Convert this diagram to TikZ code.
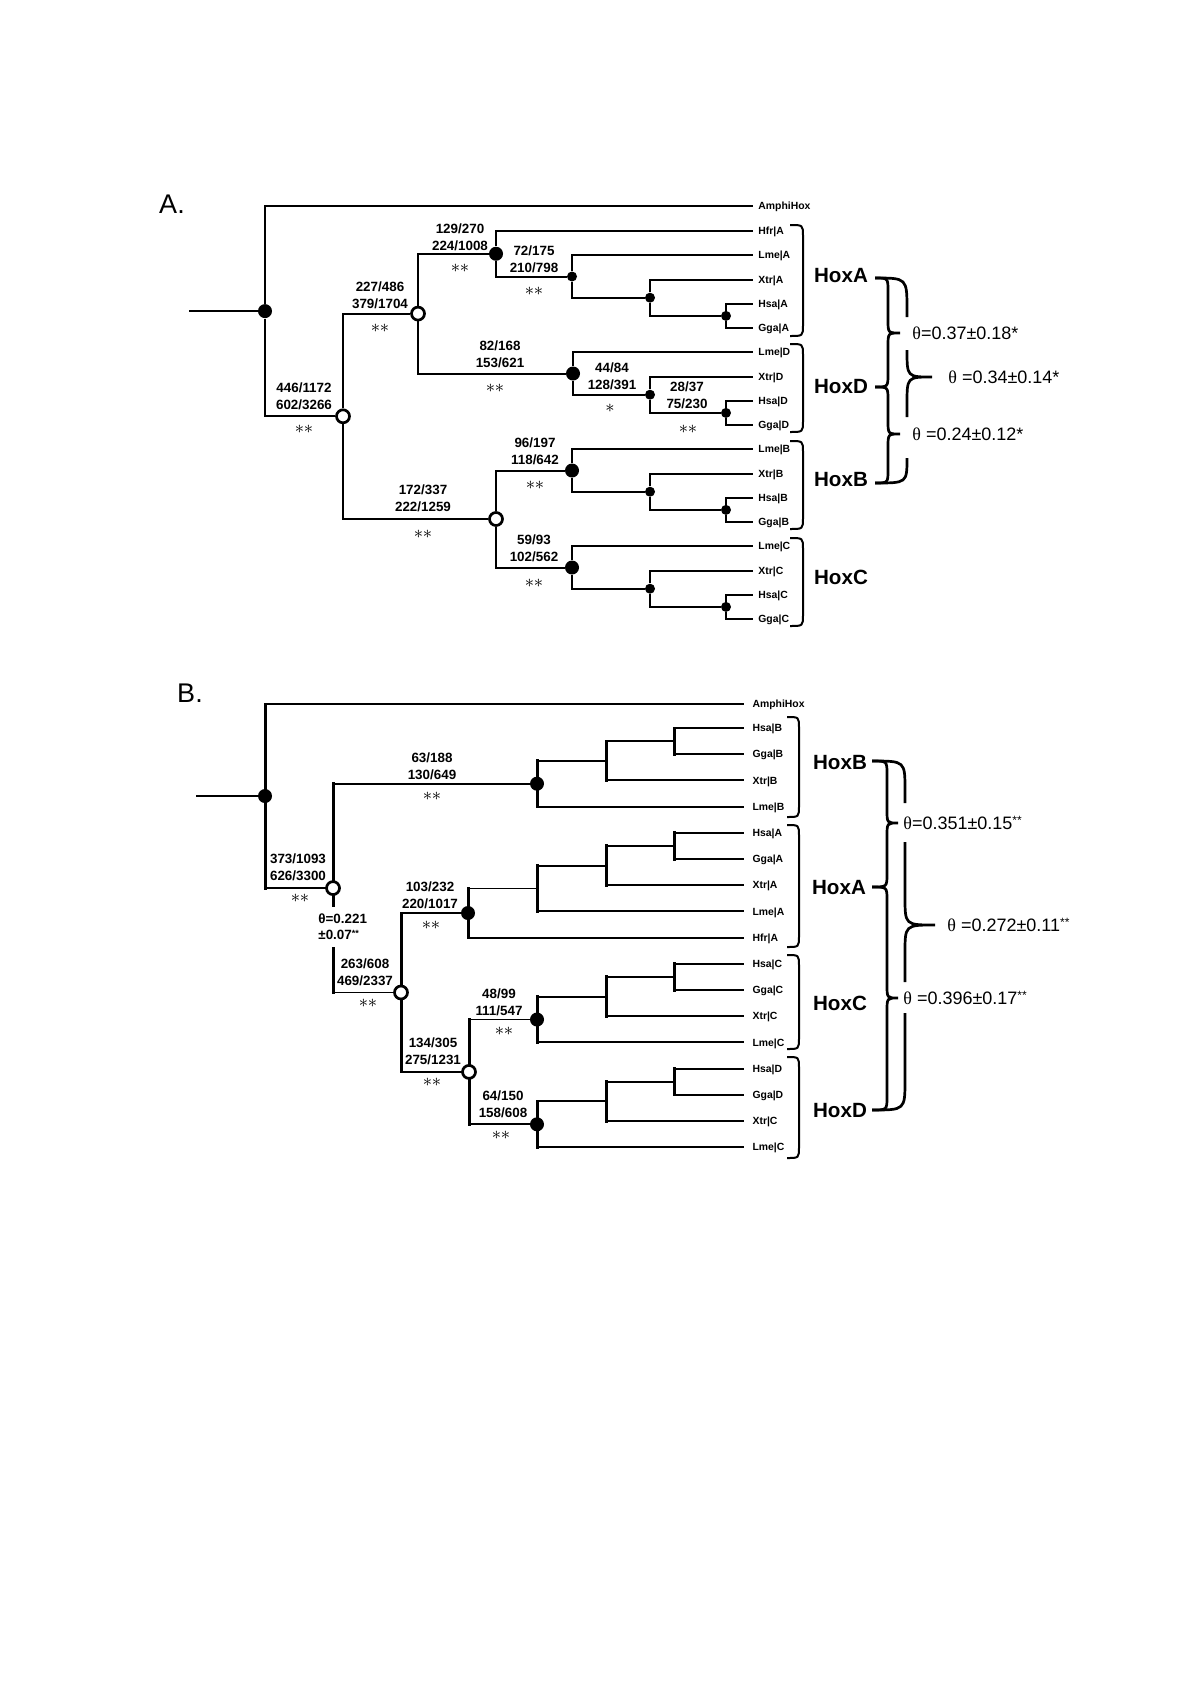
\documentclass[tikz,border=0pt]{standalone}
\usepackage{fontspec}
\setmainfont{Liberation Sans}
\newfontfamily\serifgr{Liberation Serif}
\begin{document}
\begin{tikzpicture}[x=0.5pt,y=-0.5pt,
  tl/.style={line width=1pt},
  bv/.style={line width=1.5pt, line cap=rect},
  bh/.style={line width=0.95pt, line cap=rect},
  bigdot/.style={circle, fill=black, inner sep=0pt, minimum size=7pt},
  smalldot/.style={circle, fill=black, inner sep=0pt, minimum size=5pt},
  opendot/.style={circle, draw=black, fill=white, line width=1.35pt, inner sep=0pt, minimum size=6.5pt},
  leafA/.style={anchor=west, font=\bfseries\fontsize{5.2}{6}\selectfont, inner xsep=2.5pt, inner ysep=0pt, text height=3.72pt, text depth=0pt},
  leafB/.style={leafA, inner xsep=4.6pt},
  frac/.style={font=\bfseries\fontsize{6.7}{8.5}\selectfont, align=center, inner sep=0pt},
  stars/.style={font=\fontsize{9.5}{9.5}\selectfont, inner sep=0pt},
  hox/.style={font=\bfseries\fontsize{10.3}{12}\selectfont, inner sep=0pt},
  theta/.style={font=\fontsize{9}{10}\selectfont, anchor=west, inner sep=0pt},
  panel/.style={font=\fontsize{13.5}{14}\selectfont, inner sep=0pt},
  brace/.style={line width=1.35pt},
  grp/.style={line width=1pt}
]
\useasboundingbox (0,0) rectangle (1200,1698);
\fill[white] (0,0) rectangle (1200,1698);

%================ PANEL A ================
\node[panel] (labA) at (172,204) {A.};
\coordinate (aStart) at (189,311.1);
\node[bigdot] (aR) at (265,311.1) {};
\node[opendot] (aADBC) at (343,416.3) {};
\node[opendot] (aAD) at (418,313.6) {};
\node[bigdot] (aHA) at (496,253.75) {};
\node[smalldot] (aLA) at (572,276.5) {};
\node[smalldot] (aXA) at (650,297.7) {};
\node[smalldot] (aGA) at (726,315.9) {};
\node[bigdot] (aLD) at (573,373.5) {};
\node[smalldot] (aXD) at (650,394.7) {};
\node[smalldot] (aGD) at (726,412.9) {};
\node[opendot] (aBC) at (496,519) {};
\node[bigdot] (aLB) at (572,470.5) {};
\node[smalldot] (aXB) at (650,491.7) {};
\node[smalldot] (aGB) at (726,509.9) {};
\node[bigdot] (aLC) at (572,567.5) {};
\node[smalldot] (aXC) at (650,588.7) {};
\node[smalldot] (aGC) at (726,606.9) {};

\node[leafA] (aAmph) at (753,206) {AmphiHox};
\node[leafA] (aHfrA) at (753,231) {Hfr|A};
\node[leafA] (aLmeA) at (753,255.25) {Lme|A};
\node[leafA] (aXtrA) at (753,279.5) {Xtr|A};
\node[leafA] (aHsaA) at (753,303.75) {Hsa|A};
\node[leafA] (aGgaA) at (753,328) {Gga|A};
\node[leafA] (aLmeD) at (753,352.25) {Lme|D};
\node[leafA] (aXtrD) at (753,376.5) {Xtr|D};
\node[leafA] (aHsaD) at (753,400.75) {Hsa|D};
\node[leafA] (aGgaD) at (753,425) {Gga|D};
\node[leafA] (aLmeB) at (753,449.25) {Lme|B};
\node[leafA] (aXtrB) at (753,473.5) {Xtr|B};
\node[leafA] (aHsaB) at (753,497.75) {Hsa|B};
\node[leafA] (aGgaB) at (753,522) {Gga|B};
\node[leafA] (aLmeC) at (753,546.25) {Lme|C};
\node[leafA] (aXtrC) at (753,570.5) {Xtr|C};
\node[leafA] (aHsaC) at (753,594.75) {Hsa|C};
\node[leafA] (aGgaC) at (753,619) {Gga|C};

\draw[tl] (aStart) -- (aR);
\foreach \p/\c in {aR/aAmph, aR/aADBC, aADBC/aAD, aADBC/aBC, aAD/aHA, aAD/aLD,
  aHA/aHfrA, aHA/aLA, aLA/aLmeA, aLA/aXA, aXA/aXtrA, aXA/aGA, aGA/aHsaA, aGA/aGgaA,
  aLD/aLmeD, aLD/aXD, aXD/aXtrD, aXD/aGD, aGD/aHsaD, aGD/aGgaD,
  aBC/aLB, aBC/aLC,
  aLB/aLmeB, aLB/aXB, aXB/aXtrB, aXB/aGB, aGB/aHsaB, aGB/aGgaB,
  aLC/aLmeC, aLC/aXC, aXC/aXtrC, aXC/aGC, aGC/aHsaC, aGC/aGgaC}
  \draw[tl] (\p) |- (\c);

% branch labels A
\node[frac] (fA1) at (304,396.5) {446/1172\\602/3266};
\node[stars] (sA1) at (304,429) {$\ast\ast$};
\node[frac] (fA2) at (380,295.5) {227/486\\379/1704};
\node[stars] (sA2) at (380,328) {$\ast\ast$};
\node[frac] (fA3) at (460,237.5) {129/270\\224/1008};
\node[stars] (sA3) at (460,268) {$\ast\ast$};
\node[frac] (fA4) at (534,259.5) {72/175\\210/798};
\node[stars] (sA4) at (534,291) {$\ast\ast$};
\node[frac] (fA5) at (500,354.5) {82/168\\153/621};
\node[stars] (sA5) at (495,388) {$\ast\ast$};
\node[frac] (fA6) at (612,376.5) {44/84\\128/391};
\node[stars] (sA6) at (610,408) {$\ast$};
\node[frac] (fA7) at (687,395) {28/37\\75/230};
\node[stars] (sA7) at (688,429) {$\ast\ast$};
\node[frac] (fA8) at (423,498.5) {172/337\\222/1259};
\node[stars] (sA8) at (423,534) {$\ast\ast$};
\node[frac] (fA9) at (535,451.5) {96/197\\118/642};
\node[stars] (sA9) at (535,485) {$\ast\ast$};
\node[frac] (fA10) at (534,548.5) {59/93\\102/562};
\node[stars] (sA10) at (534,583) {$\ast\ast$};

% group brackets A
\foreach \ya/\yb in {225/336, 344/432, 441/529, 538/626}
  \draw[grp] (790,\ya) .. controls (803,\ya) .. (803,\ya+11) -- (803,\yb-11) .. controls (803,\yb) .. (790,\yb);

\node[hox] (hAA) at (841,276) {HoxA};
\node[hox] (hAD) at (841,387) {HoxD};
\node[hox] (hAB) at (841,480) {HoxB};
\node[hox] (hAC) at (841,577) {HoxC};

% theta braces A
\draw[brace] (875,278) .. controls (888,278) .. (888,291) -- (888,320) .. controls (888,333) .. (900,333)
  .. controls (888,333) .. (888,346) -- (888,374) .. controls (888,387) .. (875,387);
\draw[brace] (875,387) .. controls (888,387) .. (888,400) -- (888,421) .. controls (888,434) .. (900,434)
  .. controls (888,434) .. (888,447) -- (888,470) .. controls (888,483) .. (875,483);
\draw[brace] (875,278) .. controls (907,278) .. (907,310) -- (907,317);
\draw[brace] (907,350) .. controls (907,377) .. (932,377) .. controls (907,377) .. (907,404) -- (907,417);
\draw[brace] (907,458) .. controls (907,483) .. (875,483);

\node[theta] (tA1) at (912,333) {{\serifgr θ}=0.37±0.18*};
\node[theta] (tA2) at (948,377) {{\serifgr θ} =0.34±0.14*};
\node[theta] (tA3) at (912,434) {{\serifgr θ} =0.24±0.12*};

%================ PANEL B ================
\node[panel] (labB) at (190,693) {B.};
\coordinate (bStart) at (197,796);
\node[bigdot] (bR) at (265,796) {};
\node[opendot] (bBACD) at (333,888.1) {};
\node[bigdot] (bLB) at (537,783.7) {};
\coordinate (bXB) at (606,760.75);
\coordinate (bGB) at (674,741.1);
\node[opendot] (bACD) at (401,992.5) {};
\node[bigdot] (bHA) at (468,913) {};
\coordinate (bLA) at (537,888.5);
\coordinate (bXA) at (606,865.55);
\coordinate (bGA) at (674,845.9);
\node[opendot] (bCD) at (469,1071.9) {};
\node[bigdot] (bLC) at (537,1019.5) {};
\coordinate (bXC) at (606,996.55);
\coordinate (bGC) at (674,976.9);
\node[bigdot] (bLD) at (537,1124.3) {};
\coordinate (bXD) at (606,1101.35);
\coordinate (bGD) at (674,1081.7);

\node[leafB] (bAmph) at (743,704) {AmphiHox};
\node[leafB] (bHsaB) at (743,728) {Hsa|B};
\node[leafB] (bGgaB) at (743,754.2) {Gga|B};
\node[leafB] (bXtrB) at (743,780.4) {Xtr|B};
\node[leafB] (bLmeB) at (743,806.6) {Lme|B};
\node[leafB] (bHsaA) at (743,832.8) {Hsa|A};
\node[leafB] (bGgaA) at (743,859) {Gga|A};
\node[leafB] (bXtrA) at (743,885.2) {Xtr|A};
\node[leafB] (bLmeA) at (743,911.4) {Lme|A};
\node[leafB] (bHfrA) at (743,937.6) {Hfr|A};
\node[leafB] (bHsaC) at (743,963.8) {Hsa|C};
\node[leafB] (bGgaC) at (743,990) {Gga|C};
\node[leafB] (bXtrC) at (743,1016.2) {Xtr|C};
\node[leafB] (bLmeC) at (743,1042.4) {Lme|C};
\node[leafB] (bHsaD) at (743,1068.6) {Hsa|D};
\node[leafB] (bGgaD) at (743,1094.8) {Gga|D};
\node[leafB] (bXtrD) at (743,1121) {Xtr|C};
\node[leafB] (bLmeD) at (743,1147.2) {Lme|C};

\draw[bh] (bStart) -- (bR);
\foreach \p/\c in {bR/bAmph, bR/bBACD, bBACD/bLB,
  bLB/bXB, bLB/bLmeB, bXB/bGB, bXB/bXtrB, bGB/bHsaB, bGB/bGgaB,
  bACD/bHA, bACD/bCD,
  bHA/bLA, bHA/bHfrA, bLA/bXA, bLA/bLmeA, bXA/bGA, bXA/bXtrA, bGA/bHsaA, bGA/bGgaA,
  bCD/bLC, bCD/bLD,
  bLC/bXC, bLC/bLmeC, bXC/bGC, bXC/bXtrC, bGC/bHsaC, bGC/bGgaC,
  bLD/bXD, bLD/bLmeD, bXD/bGD, bXD/bXtrD, bGD/bHsaD, bGD/bGgaD}
  {\draw[bv] (\p) -- (\p |- \c); \draw[bh] (\p |- \c) -- (\c);}

% interrupted branch with theta label
\coordinate (gapT) at (333,905);
\coordinate (gapB) at (333,948);
\draw[bv] (bBACD) -- (gapT);
\draw[bv] (gapB) -- (gapB |- bACD);
\draw[bh] (gapB |- bACD) -- (bACD);
\node[font=\bfseries\fontsize{6.7}{8}\selectfont, anchor=west, align=left, inner sep=0pt] (tB0) at (318,927)
  {θ=0.221\\±0.07\raisebox{1.6pt}{\fontsize{4.5}{5}\selectfont **}};

% branch labels B
\node[frac] (fB1) at (298,867.5) {373/1093\\626/3300};
\node[stars] (sB1) at (300,898) {$\ast\ast$};
\node[frac] (fB2) at (432,766) {63/188\\130/649};
\node[stars] (sB2) at (432,796) {$\ast\ast$};
\node[frac] (fB3) at (430,895.5) {103/232\\220/1017};
\node[stars] (sB3) at (431,925) {$\ast\ast$};
\node[frac] (fB4) at (365,972) {263/608\\469/2337};
\node[stars] (sB4) at (368,1003) {$\ast\ast$};
\node[frac] (fB5) at (499,1002) {48/99\\111/547};
\node[stars] (sB5) at (504,1031) {$\ast\ast$};
\node[frac] (fB6) at (433,1051.5) {134/305\\275/1231};
\node[stars] (sB6) at (432,1082) {$\ast\ast$};
\node[frac] (fB7) at (503,1104.5) {64/150\\158/608};
\node[stars] (sB7) at (501,1135) {$\ast\ast$};

% group brackets B
\foreach \ya/\yb in {717/817, 825/947, 955/1049, 1057/1158}
  \draw[grp] (787,\ya) .. controls (799,\ya) .. (799,\ya+11) -- (799,\yb-11) .. controls (799,\yb) .. (787,\yb);

\node[hox] (hBB) at (840,763) {HoxB};
\node[hox] (hBA) at (839,887) {HoxA};
\node[hox] (hBC) at (840,1003) {HoxC};
\node[hox] (hBD) at (840,1110) {HoxD};

% theta braces B
\draw[brace] (872,761) .. controls (887,761) .. (887,774) -- (887,810) .. controls (887,823) .. (898,823)
  .. controls (887,823) .. (887,836) -- (887,874) .. controls (887,887) .. (872,887);
\draw[brace] (872,887) .. controls (887,887) .. (887,900) -- (887,985) .. controls (887,998) .. (898,998)
  .. controls (887,998) .. (887,1011) -- (887,1097) .. controls (887,1110) .. (872,1110);
\draw[brace] (872,761) .. controls (905,761) .. (905,790) -- (905,803);
\draw[brace] (905,842) -- (905,897) .. controls (905,925) .. (935,925) .. controls (905,925) .. (905,953) -- (905,982);
\draw[brace] (905,1013) -- (905,1080) .. controls (905,1110) .. (872,1110);

\node[theta] (tB1) at (903,823) {{\serifgr θ}=0.351±0.15\raisebox{2.4pt}{\fontsize{6}{6}\selectfont **}};
\node[theta] (tB2) at (947,925) {{\serifgr θ} =0.272±0.11\raisebox{2.4pt}{\fontsize{6}{6}\selectfont **}};
\node[theta] (tB3) at (903,998) {{\serifgr θ} =0.396±0.17\raisebox{2.4pt}{\fontsize{6}{6}\selectfont **}};
\end{tikzpicture}
\end{document}
